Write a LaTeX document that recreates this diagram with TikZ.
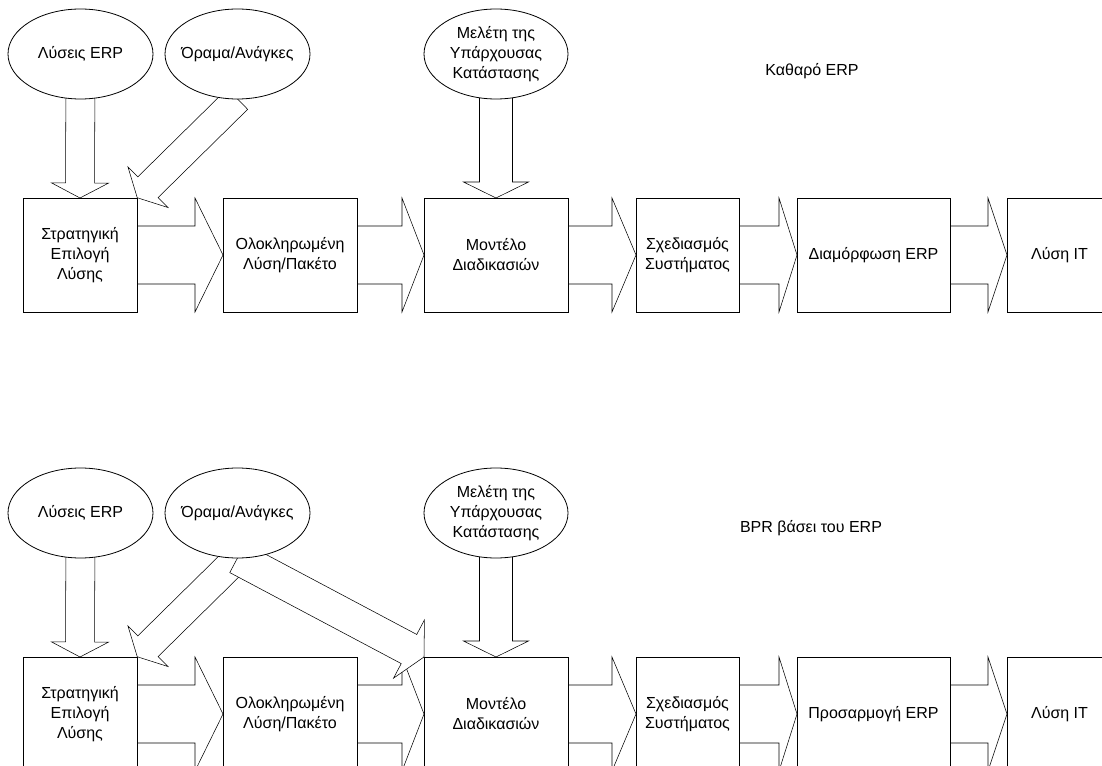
\documentclass[tikz,border=0pt]{standalone}
\usepackage{fontspec}
\setmainfont{Liberation Sans}
\usetikzlibrary{shapes.geometric,calc}
\pgfdeclarelayer{bg}
\pgfsetlayers{bg,main}
\newcommand\PX{0.75pt}
% #1 tail, #2 tip, #3 shaft half width, #4 head half width, #5 head length (px)
\newcommand\blockarrow[5]{%
  \path let \p1=(#1), \p2=(#2) in \pgfextra{%
    \pgfmathsetmacro\BAang{atan2(\y2-\y1,\x2-\x1)}%
    \pgfmathsetmacro\BAlen{veclen(\x2-\x1,\y2-\y1)}%
    \global\let\BAang\BAang \global\let\BAlen\BAlen};
  \begin{scope}[shift={(#1)},rotate=\BAang]
    \draw[barrow] (0pt,#3*\PX) -- (\BAlen pt-#5*\PX,#3*\PX) -- (\BAlen pt-#5*\PX,#4*\PX)
      -- (\BAlen pt,0pt) -- (\BAlen pt-#5*\PX,-#4*\PX) -- (\BAlen pt-#5*\PX,-#3*\PX)
      -- (0pt,-#3*\PX) -- cycle;
  \end{scope}}
\begin{document}
\begin{tikzpicture}[x=0.75pt,y=-0.75pt,
  font=\fontsize{12}{15}\selectfont, line width=0.6pt,
  box/.style={draw, fill=white, rectangle, inner sep=2pt, outer sep=0pt, align=center, minimum height=114*\PX},
  ell/.style={draw, fill=white, ellipse, inner sep=0pt, outer sep=0pt, minimum width=145*\PX, minimum height=90*\PX},
  barrow/.style={draw, fill=white, line join=miter},
  lbl/.style={inner sep=0pt, align=center}]
\useasboundingbox (0,0) rectangle (1102,766);
\clip (0,0) rectangle (1102,766);

% ---------- top: Καθαρό ERP ----------
\node[box, minimum width=114*\PX] (b1) at (80,255) {Στρατηγική\\Επιλογή\\Λύσης};
\node[box, minimum width=134*\PX] (b2) at (290,255) {Ολοκληρωμένη\\Λύση/Πακέτο};
\node[box, minimum width=144*\PX] (b3) at (496,255) {Μοντέλο\\Διαδικασιών};
\node[box, minimum width=103*\PX] (b4) at (687.5,255) {Σχεδιασμός\\Συστήματος};
\node[box, minimum width=153*\PX] (b5) at (873.5,255) {Διαμόρφωση ERP};
\node[box, minimum width=105*\PX] (b6) at (1059.5,255) {Λύση IT};

\node[ell, label=center:Λύσεις ERP] (e1) at (80.5,54) {};
\node[ell, label=center:Όραμα/Ανάγκες] (e2) at (237.5,54) {};
\node[ell, minimum width=144*\PX, label={[align=center]center:Μελέτη της\\Υπάρχουσας\\Κατάστασης}] (e3) at (496,54) {};

\node[lbl] (t1) at (812,71) {Καθαρό ERP};

% ---------- bottom: BPR βάσει του ERP ----------
\node[box, minimum width=114*\PX] (c1) at (80,714) {Στρατηγική\\Επιλογή\\Λύσης};
\node[box, minimum width=134*\PX] (c2) at (290,714) {Ολοκληρωμένη\\Λύση/Πακέτο};
\node[box, minimum width=144*\PX] (c3) at (496,714) {Μοντέλο\\Διαδικασιών};
\node[box, minimum width=103*\PX] (c4) at (687.5,714) {Σχεδιασμός\\Συστήματος};
\node[box, minimum width=153*\PX] (c5) at (873.5,714) {Προσαρμογή ERP};
\node[box, minimum width=105*\PX] (c6) at (1059.5,714) {Λύση IT};

\node[ell, label=center:Λύσεις ERP] (f1) at (80.5,513) {};
\node[ell, label=center:Όραμα/Ανάγκες] (f2) at (237.5,513) {};
\node[ell, minimum width=144*\PX, label={[align=center]center:Μελέτη της\\Υπάρχουσας\\Κατάστασης}] (f3) at (496,513) {};

\node[lbl] (t2) at (811,528) {BPR βάσει του ERP};

% ---------- block arrows (behind the nodes) ----------
\begin{pgfonlayer}{bg}
  \blockarrow{b1.east}{b2.west}{29}{57}{28}
  \blockarrow{b2.east}{b3.west}{29}{57}{22}
  \blockarrow{b3.east}{b4.west}{29}{57}{24}
  \blockarrow{b4.east}{b5.west}{29}{57}{18}
  \blockarrow{b5.east}{b6.west}{29}{57}{19}
  \blockarrow{e1.center}{b1.north}{14.5}{28.5}{15}
  \blockarrow{e3.center}{b3.north}{16.5}{32.5}{16}
  \blockarrow{e2.south}{b1.north east}{14.5}{28.5}{15}

  \blockarrow{c1.east}{c2.west}{29}{57}{28}
  \blockarrow{c2.east}{c3.west}{29}{57}{22}
  \blockarrow{c3.east}{c4.west}{29}{57}{24}
  \blockarrow{c4.east}{c5.west}{29}{57}{18}
  \blockarrow{c5.east}{c6.west}{29}{57}{19}
  \blockarrow{f1.center}{c1.north}{14.5}{28.5}{15}
  \blockarrow{f3.center}{c3.north}{16.5}{32.5}{16}
  \blockarrow{f2.south}{c1.north east}{14.5}{28.5}{15}
  \blockarrow{f2.south}{c3.north west}{16.5}{33}{17}
\end{pgfonlayer}
\end{tikzpicture}
\end{document}
